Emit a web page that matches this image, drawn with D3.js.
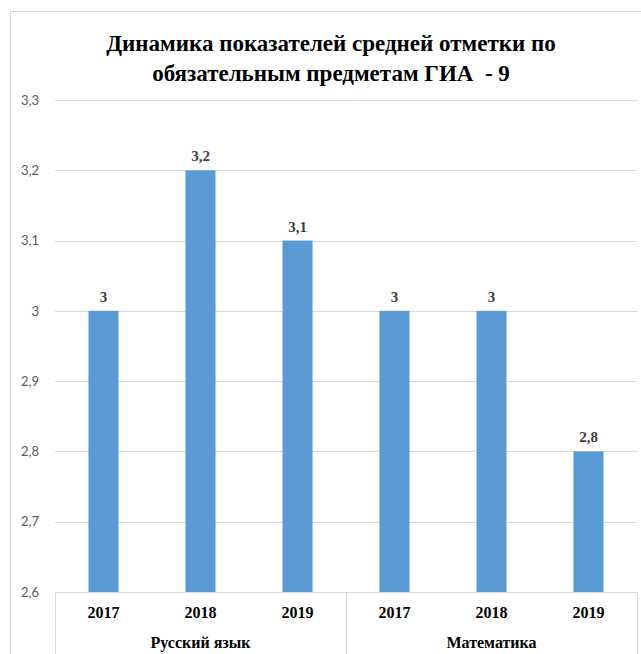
<!DOCTYPE html>
<html><head><meta charset="utf-8">
<script src="https://cdn.jsdelivr.net/npm/d3@7"></script>
<style>body{margin:0;background:#fff}svg{display:block}
.serif{font-family:"Times New Roman","Liberation Serif",Tinos,"DejaVu Serif",serif;font-weight:bold}
</style>
</head><body>
<script>
const groups = ["Русский язык", "Математика"];
const years = ["2017", "2018", "2019"];
const values = [[3, 3.2, 3.1], [3, 3, 2.8]];
const yTicks = [2.6, 2.7, 2.8, 2.9, 3.0, 3.1, 3.2, 3.3];
const titleLines = ["Динамика показателей средней отметки по", "обязательным предметам ГИА  - 9"];

(function(){
const W = 641, H = 654;
const svg = d3.select("body").append("svg").attr("width", W).attr("height", H);
svg.append("rect").attr("x", 10.5).attr("y", 11.5).attr("width", 700).attr("height", 700)
  .attr("fill", "#fff").attr("stroke", "#D9D9D9");

const pl = 55, pr = 637, pt = 100, pb = 592;
const y = d3.scaleLinear().domain([2.6, 3.3]).range([pb, pt]);
const cats = [];
groups.forEach((g, gi) => years.forEach((yr, yi) => cats.push({g, yr, v: values[gi][yi], key: g + yr})));
const x = d3.scaleBand().domain(cats.map(d => d.key)).range([pl, pr]).paddingInner(0.69).paddingOuter(0.345);

const fmt = v => String(+v.toFixed(1)).replace(".", ",");

svg.append("g").selectAll("line").data(yTicks.slice(1)).join("line")
  .attr("x1", pl).attr("x2", pr).attr("y1", d => Math.round(y(d)) + 0.5).attr("y2", d => Math.round(y(d)) + 0.5)
  .attr("stroke", "#D9D9D9");

const yAxis = svg.append("g").attr("transform", `translate(${pl - 13},0)`)
  .call(d3.axisLeft(y).tickValues(yTicks).tickFormat(fmt).tickSize(0));
yAxis.select(".domain").remove();
yAxis.selectAll("text").attr("font-family", "Lato, 'Open Sans', sans-serif").attr("font-size", 13).attr("fill", "#595959");

svg.append("g").selectAll("rect").data(cats).join("rect")
  .attr("x", d => x(d.key)).attr("width", x.bandwidth())
  .attr("y", d => y(d.v)).attr("height", d => y(2.6) - y(d.v))
  .attr("fill", "#5B9BD5");

svg.append("g").selectAll("text").data(cats).join("text").attr("class", "serif")
  .attr("x", d => x(d.key) + x.bandwidth() / 2).attr("y", d => y(d.v) - 9)
  .attr("text-anchor", "middle").attr("font-size", 15).attr("fill", "#404040")
  .text(d => fmt(d.v));

const ax = svg.append("g").attr("stroke", "#D9D9D9");
ax.append("line").attr("x1", pl).attr("x2", pr).attr("y1", pb + 0.5).attr("y2", pb + 0.5);
const gw = (pr - pl) / groups.length;
d3.range(groups.length + 1).forEach(i => {
  const xx = Math.round(pl + i * gw) + 0.5;
  ax.append("line").attr("x1", xx).attr("x2", xx).attr("y1", pb).attr("y2", H);
});
svg.append("g").selectAll("text").data(cats).join("text").attr("class", "serif")
  .attr("x", d => x(d.key) + x.bandwidth() / 2).attr("y", 618)
  .attr("text-anchor", "middle").attr("font-size", 16).attr("fill", "#000")
  .text(d => d.yr);
svg.append("g").selectAll("text").data(groups).join("text").attr("class", "serif")
  .attr("x", (d, i) => pl + (i + 0.5) * gw).attr("y", 648)
  .attr("text-anchor", "middle").attr("font-size", 16).attr("fill", "#000")
  .text(d => d);

svg.append("g").selectAll("text").data(titleLines).join("text").attr("class", "serif")
  .attr("x", 331).attr("y", (d, i) => 51 + i * 30)
  .attr("text-anchor", "middle").attr("font-size", 23).attr("fill", "#000")
  .style("white-space", "pre")
  .text(d => d);
})();
</script>
</body></html>
